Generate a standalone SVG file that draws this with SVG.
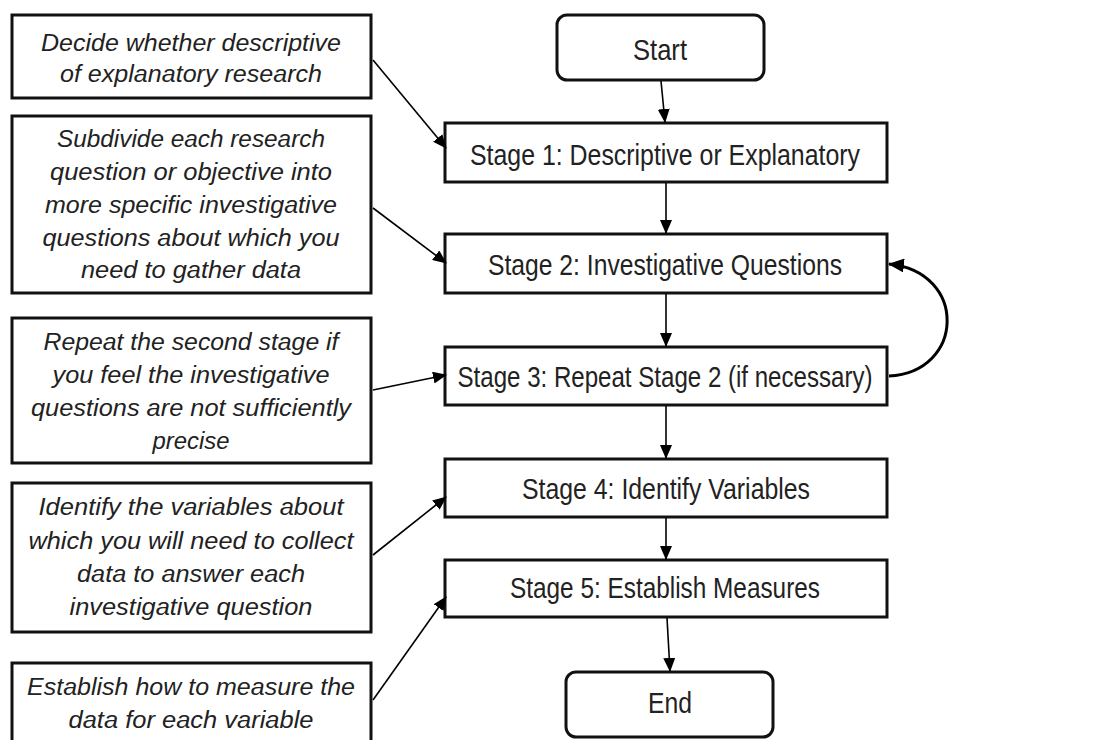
<svg xmlns="http://www.w3.org/2000/svg" width="1106" height="740" viewBox="0 0 1106 740">
<defs>
<marker id="ah" viewBox="0 0 14 12" refX="13" refY="6" markerWidth="14" markerHeight="12" markerUnits="userSpaceOnUse" orient="auto">
<path d="M0,0 L14,6 L0,12 z" fill="#000"/>
</marker>
<marker id="ah2" viewBox="0 0 16 14" refX="15" refY="7" markerWidth="16" markerHeight="14" markerUnits="userSpaceOnUse" orient="auto">
<path d="M0,0 L16,7 L0,14 z" fill="#000"/>
</marker>
<style>
.box{fill:#fff;stroke:#111;stroke-width:3}
.note{font-family:"Liberation Sans",Arial,sans-serif;font-style:italic;font-size:23.5px;fill:#222;text-anchor:middle}
.stage{font-family:"Liberation Sans",Arial,sans-serif;font-size:29.5px;fill:#222;text-anchor:middle}
.conn{stroke:#000;stroke-width:1.6;fill:none;marker-end:url(#ah)}
</style>
</defs>
<rect width="1106" height="740" fill="#fff"/>

<g id="note1">
<rect class="box" x="12" y="15" width="359" height="83"/>
<text class="note" x="191" y="51" textLength="300" lengthAdjust="spacingAndGlyphs">Decide whether descriptive</text>
<text class="note" x="191" y="82" textLength="262" lengthAdjust="spacingAndGlyphs">of explanatory research</text>
</g>
<g id="note2">
<rect class="box" x="12" y="116" width="359" height="177"/>
<text class="note" x="191" y="147" textLength="268" lengthAdjust="spacingAndGlyphs">Subdivide each research</text>
<text class="note" x="191" y="180" textLength="282" lengthAdjust="spacingAndGlyphs">question or objective into</text>
<text class="note" x="191" y="213" textLength="292" lengthAdjust="spacingAndGlyphs">more specific investigative</text>
<text class="note" x="191" y="246" textLength="297" lengthAdjust="spacingAndGlyphs">questions about which you</text>
<text class="note" x="191" y="278" textLength="220" lengthAdjust="spacingAndGlyphs">need to gather data</text>
</g>
<g id="note3">
<rect class="box" x="12" y="318" width="359" height="145"/>
<text class="note" x="191" y="350" textLength="295" lengthAdjust="spacingAndGlyphs">Repeat the second stage if</text>
<text class="note" x="191" y="383" textLength="277" lengthAdjust="spacingAndGlyphs">you feel the investigative</text>
<text class="note" x="191" y="416" textLength="320" lengthAdjust="spacingAndGlyphs">questions are not sufficiently</text>
<text class="note" x="191" y="449" textLength="77" lengthAdjust="spacingAndGlyphs">precise</text>
</g>
<g id="note4">
<rect class="box" x="12" y="483" width="359" height="149"/>
<text class="note" x="191" y="515" textLength="305" lengthAdjust="spacingAndGlyphs">Identify the variables about</text>
<text class="note" x="191" y="549" textLength="325" lengthAdjust="spacingAndGlyphs">which you will need to collect</text>
<text class="note" x="191" y="582" textLength="228" lengthAdjust="spacingAndGlyphs">data to answer each</text>
<text class="note" x="191" y="615" textLength="243" lengthAdjust="spacingAndGlyphs">investigative question</text>
</g>
<g id="note5">
<rect class="box" x="12" y="663" width="359" height="90"/>
<text class="note" x="191" y="695" textLength="328" lengthAdjust="spacingAndGlyphs">Establish how to measure the</text>
<text class="note" x="191" y="728" textLength="245" lengthAdjust="spacingAndGlyphs">data for each variable</text>
</g>

<g id="start">
<rect class="box" x="557" y="15" width="207" height="65" rx="10"/>
<text class="stage" x="660" y="60" textLength="54" lengthAdjust="spacingAndGlyphs">Start</text>
</g>
<g id="stage1">
<rect class="box" x="445" y="123" width="442" height="59"/>
<text class="stage" x="665" y="165" textLength="390" lengthAdjust="spacingAndGlyphs">Stage 1: Descriptive or Explanatory</text>
</g>
<g id="stage2">
<rect class="box" x="445" y="234" width="442" height="59"/>
<text class="stage" x="665" y="275" textLength="354" lengthAdjust="spacingAndGlyphs">Stage 2: Investigative Questions</text>
</g>
<g id="stage3">
<rect class="box" x="445" y="347" width="442" height="58"/>
<text class="stage" x="665" y="387" textLength="415" lengthAdjust="spacingAndGlyphs">Stage 3: Repeat Stage 2 (if necessary)</text>
</g>
<g id="stage4">
<rect class="box" x="445" y="459" width="442" height="58"/>
<text class="stage" x="666" y="499" textLength="288" lengthAdjust="spacingAndGlyphs">Stage 4: Identify Variables</text>
</g>
<g id="stage5">
<rect class="box" x="445" y="560" width="442" height="57"/>
<text class="stage" x="665" y="598" textLength="310" lengthAdjust="spacingAndGlyphs">Stage 5: Establish Measures</text>
</g>
<g id="end">
<rect class="box" x="566" y="672" width="207" height="65" rx="10"/>
<text class="stage" x="670" y="713" textLength="44" lengthAdjust="spacingAndGlyphs">End</text>
</g>

<g id="connectors">
<line class="conn" x1="661" y1="81" x2="665" y2="122"/>
<line class="conn" x1="666" y1="183" x2="666" y2="233"/>
<line class="conn" x1="666" y1="294" x2="666" y2="346"/>
<line class="conn" x1="666" y1="406" x2="666" y2="458"/>
<line class="conn" x1="666" y1="518" x2="666" y2="559"/>
<line class="conn" x1="667" y1="618" x2="670" y2="671"/>
<line class="conn" x1="373" y1="60" x2="446" y2="148"/>
<line class="conn" x1="373" y1="208" x2="446" y2="263"/>
<line class="conn" x1="373" y1="390" x2="446" y2="375"/>
<line class="conn" x1="373" y1="555" x2="446" y2="497"/>
<line class="conn" x1="373" y1="700" x2="446" y2="597"/>
<path d="M889,376 C965,372 968,272 889,264" fill="none" stroke="#000" stroke-width="3" marker-end="url(#ah2)"/>
</g>
</svg>
